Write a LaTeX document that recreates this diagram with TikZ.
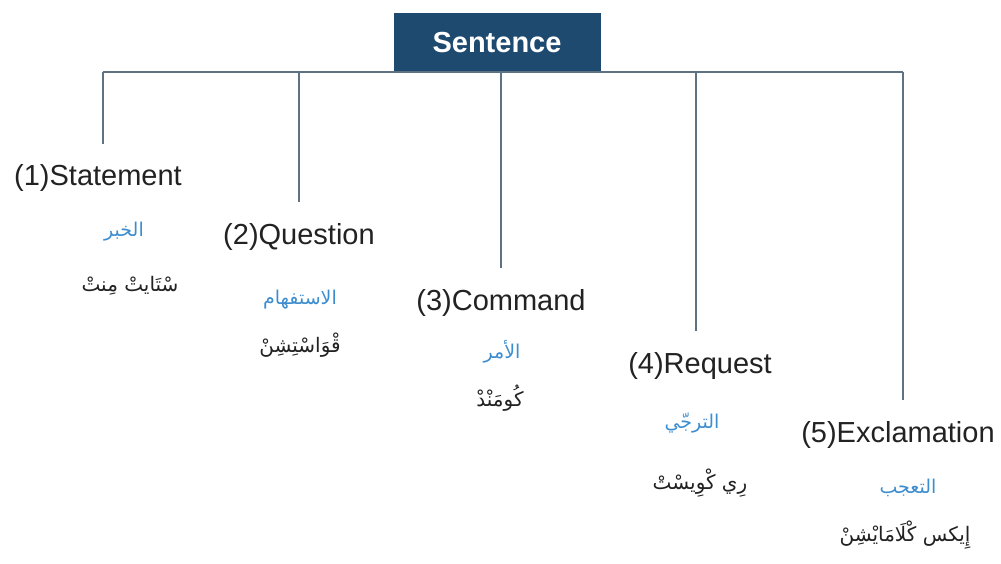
\documentclass[tikz,border=0pt]{standalone}
\usepackage{fontspec}
\setmainfont{Liberation Sans}
\newfontfamily\arabicfont[Script=Arabic]{DejaVu Sans}
\TeXXeTstate=1
\usetikzlibrary{calc}
\definecolor{boxblue}{HTML}{1F4A70}
\definecolor{linegray}{HTML}{5F7282}
\definecolor{arblue}{HTML}{3C8DD0}
\definecolor{txt}{HTML}{222222}
\tikzset{
  rootbox/.style={fill=boxblue, text=white, minimum width=207pt, minimum height=59pt, inner sep=0pt,
    font=\bfseries\fontsize{29}{33}\selectfont},
  conn/.style={draw=linegray, line width=2.2pt},
  lab/.style={anchor=base, inner sep=0pt, text=txt, font=\fontsize{29}{33}\selectfont},
  arb/.style={inner sep=0pt, text=arblue, font=\arabicfont\fontsize{19}{22}\selectfont},
  ark/.style={inner sep=0pt, text=txt, font=\arabicfont\fontsize{20}{24}\selectfont},
}
\begin{document}
\begin{tikzpicture}[x=1pt,y=-1pt]
\useasboundingbox (0,0) rectangle (1001,564);
\node[rootbox] (S) at (497,42.5) {Sentence};
\coordinate (j1) at (103,72);
\coordinate (j2) at (299,72);
\coordinate (j3) at (501,72);
\coordinate (j4) at (696,72);
\coordinate (j5) at (903,72);
\node[lab] (L1) at (98,186) {(1)Statement};
\node[lab] (L2) at (299,244) {(2)Question};
\node[lab] (L3) at (501,310) {(3)Command};
\node[lab] (L4) at (700,373) {(4)Request};
\node[lab] (L5) at (898,442) {(5)Exclamation};
\draw[conn] (j1) -- (j5);
\foreach \i in {1,...,5} {
  \draw[conn, shorten >=21pt] (j\i) -- (j\i |- L\i.north);
}
\node[arb] (A1) at (124,232) {\beginR الخبر\endR};
\node[ark] (B1) at (130,286) {\beginR سْتَايتْ مِنتْ\endR};
\node[arb] (A2) at (300,300) {\beginR الاستفهام\endR};
\node[ark] (B2) at (300,345) {\beginR قْوَاسْتِشِنْ\endR};
\node[arb] (A3) at (502,352) {\beginR الأمر\endR};
\node[ark] (B3) at (500,398) {\beginR كُومَنْدْ\endR};
\node[arb] (A4) at (692,423) {\beginR الترجّي\endR};
\node[ark] (B4) at (700,483) {\beginR رِي كْوِيسْتْ\endR};
\node[arb] (A5) at (908,488) {\beginR التعجب\endR};
\node[ark] (B5) at (905,535) {\beginR إِيكس كْلَامَايْشِنْ\endR};
\end{tikzpicture}
\end{document}
